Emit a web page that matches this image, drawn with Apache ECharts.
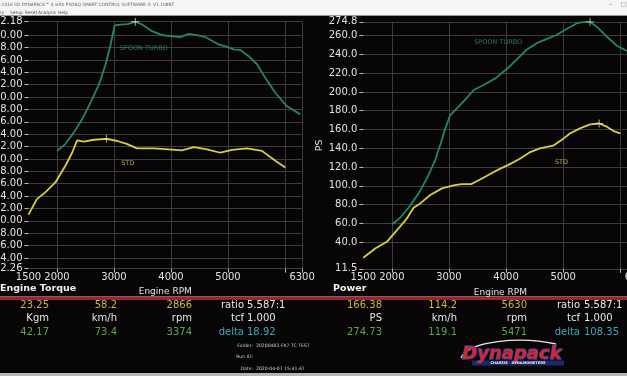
<!DOCTYPE html>
<html><head><meta charset="utf-8">
<script src="https://cdn.jsdelivr.net/npm/echarts@6/dist/echarts.min.js"></script>
<style>html,body{margin:0;padding:0;background:#070505;}#c{width:627px;height:376px;}</style>
</head><body><div id="c"></div>
<script>
// ---- data ----
const torqueRpmTurbo = [2000,2147,2294,2441,2588,2735,2853,2941,3012,3118,3235,3374,3500,3647,3824,3900,4164,4310,4456,4602,4836,4982,5099,5216,5363,5509,5655,5830,6035,6269];
const torqueTurbo    = [21.3,22.4,24.25,26.4,29.1,32.0,35.3,38.5,41.6,41.7,41.8,42.17,41.7,40.75,40.1,39.95,39.7,40.2,40.0,39.7,38.5,38.1,37.7,37.6,36.6,35.3,33.1,30.7,28.5,27.2];
const torqueRpmStd   = [1500,1647,1794,1971,2147,2265,2353,2471,2647,2866,3059,3235,3400,3706,3900,4193,4398,4632,4865,5070,5333,5596,5830,6005];
const torqueStd      = [11.0,13.5,14.6,16.2,18.9,21.0,23.0,22.8,23.1,23.25,22.9,22.4,21.7,21.7,21.6,21.4,21.9,21.55,21.0,21.45,21.7,21.3,19.7,18.6];
const powerRpmTurbo  = [2000,2146,2292,2468,2614,2760,2865,2936,3023,3170,3316,3433,3608,3813,3882,4059,4206,4353,4529,4706,4882,5029,5147,5247,5353,5471,5588,5765,5941,6118];
const powerTurbo     = [58.8,65.9,76.6,91.9,107.9,127.4,147.0,161.2,175.4,184.3,193.9,202.1,207.4,214.5,218.0,226.9,235.8,244.7,251.8,256.4,260.7,266.0,270.0,273.5,274.5,274.73,269.6,258.9,249.3,243.6];
const powerRpmStd    = [1500,1708,1912,2117,2263,2380,2497,2673,2877,3082,3215,3390,3579,3706,3882,4059,4235,4412,4588,4824,4971,5118,5294,5471,5630,5765,5882,6000];
const powerStd       = [23.3,33.2,40.3,54.5,65.2,76.6,81.2,90.1,97.2,100.5,101.8,101.8,107.8,112.1,117.8,122.8,128.5,135.6,139.8,142.7,148.7,155.8,161.2,165.4,166.38,163.0,158.3,155.8];

const xLabelVals   = [1500,2000,3000,4000,5000,6300];
const xTickVals    = [2000,3000,4000,5000,6000,6300];
const torqueTicks  = [2.26,4,6,8,10,12,14,16,18,20,22,24,26,28,30,32,34,36,38,40,42.18];
const powerTicks   = [11.5,40,60,80,100,120,140,160,180,200,220,240,260,274.8];

const torquePeaks  = [[3374,42.17],[2866,23.25]];
const powerPeaks   = [[5471,274.73],[5630,166.38]];
const torqueTags   = [[3521,37.9,'SPOON TURBO'],[3242,19.3,'STD']];
const powerTags    = [[3862,252.5,'SPOON TURBO'],[4971,125.0,'STD']];

const leftRows  = [['23.25','58.2','2866','ratio','5.587:1'],['Kgm','km/h','rpm','tcf','1.000'],['42.17','73.4','3374','delta','18.92']];
const rightRows = [['166.38','114.2','5630','ratio','5.587:1'],['PS','km/h','rpm','tcf','1.000'],['274.73','119.1','5471','delta','108.35']];
const folderInfo = [['Folder:','20200403 FK7 TC TEST'],['Run ID:',''],['Date:','2020-04-07 15:41:47']];
const menuItems = ['ry','Setup','Reset','Analysis','Help'];

// ---- styling ----
const GREEN = '#21895a', YELLOW = '#d8cf45', GRID = '#3d3d3d', TXT = '#e2e2e2';
const FONT = "'DejaVu Sans', Verdana, sans-serif";
const zip = (a,b) => a.map((v,i)=>[v,b[i]]);

function xAxisCfg(gi){
  return {type:'value', gridIndex:gi, min:1500, max:6300,
    axisLine:{show:false},
    axisTick:{show:true, customValues:xTickVals, length:4, lineStyle:{color:'#bbb'}},
    axisLabel:{customValues:xLabelVals, color:TXT, fontSize:10, fontFamily:FONT, margin:4,
      hideOverlap:false, showMinLabel:true, showMaxLabel:true, formatter:v=>String(v)},
    splitLine:{show:true, lineStyle:{color:GRID, width:1}},
    name:'Engine RPM', nameLocation:'middle', nameGap:17,
    nameTextStyle:{color:TXT, fontSize:9, fontFamily:FONT}};
}
function yAxisCfg(gi,min,max,ticks,dec,name){
  return {type:'value', gridIndex:gi, min:min, max:max,
    axisLine:{show:false},
    axisTick:{show:true, customValues:ticks, length:4, lineStyle:{color:'#bbb'}},
    axisLabel:{customValues:ticks, color:TXT, fontSize:10, fontFamily:FONT, margin:6,
      hideOverlap:false, showMinLabel:true, showMaxLabel:true, formatter:v=>v.toFixed(dec)},
    splitLine:{show:true, lineStyle:{color:GRID, width:1}},
    name:name, nameLocation:'middle', nameGap:38, nameRotate:90,
    nameTextStyle:{color:TXT, fontSize:9.5, fontFamily:FONT}};
}
const crossPath = 'path://M4,0h1v4h4v1h-4v4h-1v-4h-4v-1h4z';
function lineS(xi, data, color){
  return {type:'line', xAxisIndex:xi, yAxisIndex:xi, data:data, showSymbol:false, symbol:'none',
    lineStyle:{color:color, width:1.8}, itemStyle:{color:color}, silent:true};
}
function peakS(xi, data){
  return {type:'scatter', xAxisIndex:xi, yAxisIndex:xi, data:data, symbol:crossPath, symbolSize:8,
    itemStyle:{color:'#ece8c8'}, z:5, silent:true};
}
function tagS(xi, tags){
  return {type:'scatter', xAxisIndex:xi, yAxisIndex:xi, symbolSize:1,
    itemStyle:{color:'transparent'}, silent:true,
    data: tags.map((d,i)=>({value:d, label:{color: i===0?'#2a9a5c':'#d8cf45'}})),
    label:{show:true, position:'inside', fontSize:6.5, fontFamily:FONT, formatter:p=>p.value[2]},
    labelLayout:{hideOverlap:false}};
}

const graphics = [];
// window title + menu
graphics.push({type:'rect', shape:{x:0,y:0,width:627,height:15}, style:{fill:'#f5f5f5'}, silent:true});
graphics.push({type:'rect', shape:{x:0,y:15,width:627,height:1}, style:{fill:'#9a9a9a'}, silent:true});
graphics.push({type:'text', x:0, y:5, style:{text:'-2016 SD DYNAPACK™ 4 with PSDAQ SMART CONTROL SOFTWARE © V1.108BT', fill:'#666', font:'4.4px '+FONT, verticalAlign:'middle'}, silent:true});
const menuX = [0,10,25,38,58];
menuItems.forEach((m,i)=>{
  graphics.push({type:'text', x:menuX[i], y:12.5, style:{text:m, fill:'#555', font:'4.4px '+FONT, verticalAlign:'middle'}, silent:true});
});
graphics.push({type:'text', x:609, y:4, style:{text:'–', fill:'#777', font:'6px '+FONT, verticalAlign:'middle'}, silent:true});
graphics.push({type:'text', x:621, y:4, style:{text:'□', fill:'#777', font:'6px '+FONT, verticalAlign:'middle'}, silent:true});
// panel titles
graphics.push({type:'text', x:0, y:289, style:{text:'Engine Torque', fill:'#f0f0f0', font:'bold 9.5px '+FONT, verticalAlign:'middle'}, silent:true});
graphics.push({type:'text', x:333, y:289, style:{text:'Power', fill:'#f0f0f0', font:'bold 9.5px '+FONT, verticalAlign:'middle'}, silent:true});
// separator
graphics.push({type:'rect', shape:{x:0,y:296,width:627,height:1}, style:{fill:'#6a6a6a'}, silent:true});
graphics.push({type:'rect', shape:{x:0,y:297,width:627,height:3}, style:{fill:'#a81f2b'}, silent:true});
// readouts
const rowY = [305,318.5,332];
function readout(rows, cols, labRight, valLeft){
  rows.forEach((r,i)=>{
    const numColor = i===0 ? '#c4bb45' : (i===2 ? '#5aa84c' : '#e8e8e8');
    for(let c=0;c<3;c++){
      graphics.push({type:'text', x:cols[c], y:rowY[i], style:{text:r[c], fill:numColor, font:'10px '+FONT, align:'right', verticalAlign:'middle'}, silent:true});
    }
    const lc = i===2 ? '#3aa9bb' : '#e8e8e8';
    graphics.push({type:'text', x:labRight, y:rowY[i], style:{text:r[3], fill:lc, font:'10px '+FONT, align:'right', verticalAlign:'middle'}, silent:true});
    graphics.push({type:'text', x:valLeft, y:rowY[i], style:{text:r[4], fill:lc, font:'10px '+FONT, align:'left', verticalAlign:'middle'}, silent:true});
  });
}
readout(leftRows, [49,117,192], 244, 247);
readout(rightRows, [382,457,527], 580, 584);
// folder info
const fY = [346,357,368.5];
folderInfo.forEach((f,i)=>{
  graphics.push({type:'text', x:253, y:fY[i], style:{text:f[0], fill:'#cfcfcf', font:'4.6px '+FONT, align:'right', verticalAlign:'middle'}, silent:true});
  graphics.push({type:'text', x:256, y:fY[i], style:{text:f[1], fill:'#cfcfcf', font:'4.6px '+FONT, align:'left', verticalAlign:'middle'}, silent:true});
});
// logo
graphics.push({type:'bezierCurve', shape:{x1:461,y1:358,cpx1:468,cpy1:341,cpx2:520,cpy2:336,x2:556,y2:344}, style:{stroke:'#e6e6e6', lineWidth:1.3, fill:null}, silent:true});
graphics.push({type:'rect', shape:{x:472,y:360.5,width:92,height:5}, style:{fill:'#1b2a6e'}, silent:true});
graphics.push({type:'text', x:512, y:354.5, style:{text:'Dynapack', fill:'#d8262c', stroke:'#2444a8', lineWidth:1.4, font:'italic bold 18px '+FONT, align:'center', verticalAlign:'middle'}, silent:true});
graphics.push({type:'text', x:518, y:363, style:{text:'CHASSIS   DYNAMOMETERS', fill:'#f0f0f0', font:'bold 3.6px '+FONT, align:'center', verticalAlign:'middle'}, silent:true});
// bottom window border
graphics.push({type:'rect', shape:{x:0,y:373,width:627,height:3}, style:{fill:'#b5b5b5'}, silent:true});

const option = {
  backgroundColor:'#070505',
  animation:false,
  grid:[
    {left:28.5, top:21.7, width:273.6, height:247, containLabel:false, outerBoundsMode:'none'},
    {left:363.3, top:21.8, width:274.1, height:247, containLabel:false, outerBoundsMode:'none'}
  ],
  xAxis:[xAxisCfg(0), xAxisCfg(1)],
  yAxis:[
    yAxisCfg(0, 2.26, 42.18, torqueTicks, 2, 'Kgm'),
    yAxisCfg(1, 11.5, 274.8, powerTicks, 1, 'PS')
  ],
  series:[
    lineS(0, zip(torqueRpmTurbo, torqueTurbo), GREEN),
    lineS(0, zip(torqueRpmStd, torqueStd), YELLOW),
    lineS(1, zip(powerRpmTurbo, powerTurbo), GREEN),
    lineS(1, zip(powerRpmStd, powerStd), YELLOW),
    peakS(0, torquePeaks),
    peakS(1, powerPeaks),
    tagS(0, torqueTags),
    tagS(1, powerTags)
  ],
  graphic:{elements:graphics}
};

const chart = echarts.init(document.getElementById('c'), null, {renderer:'canvas'});
chart.setOption(option);
</script></body></html>
